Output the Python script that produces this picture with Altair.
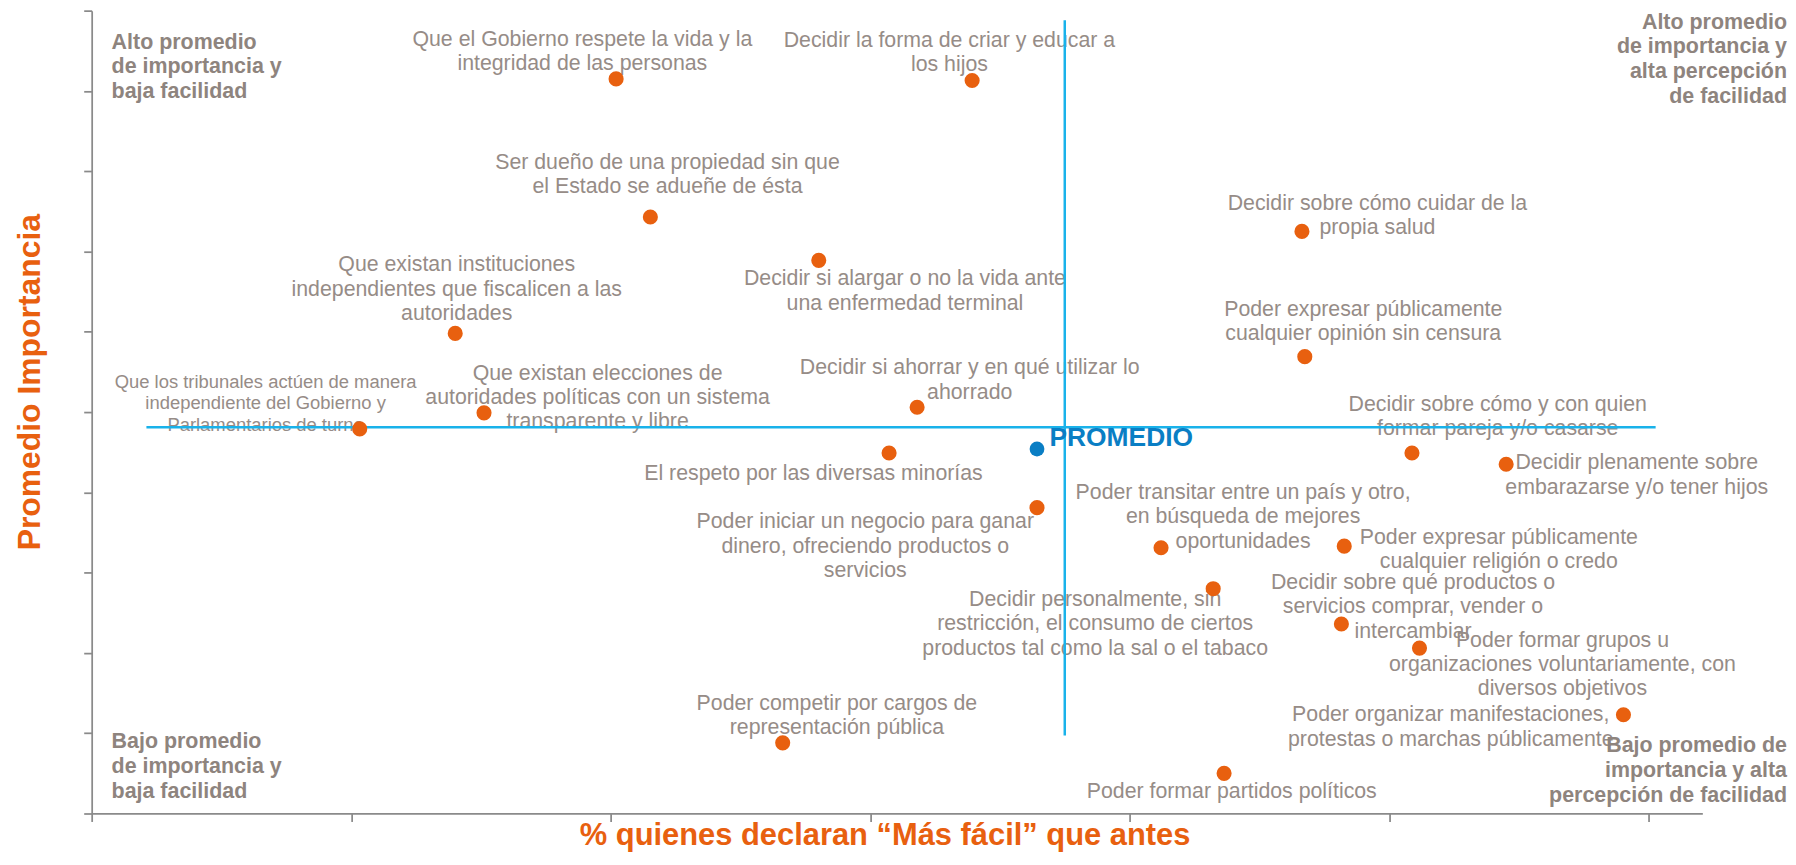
import altair as alt
import pandas as pd

# ---------------- data ----------------
labels = [
    "Que el Gobierno respete la vida y la\nintegridad de las personas",
    "Decidir la forma de criar y educar a\nlos hijos",
    "Ser dueño de una propiedad sin que\nel Estado se adueñe de ésta",
    "Decidir si alargar o no la vida ante\nuna enfermedad terminal",
    "Que existan instituciones\nindependientes que fiscalicen a las\nautoridades",
    "Que  los tribunales actúen de manera\nindependiente del Gobierno y\nParlamentarios de turno",
    "Que existan elecciones de\nautoridades políticas con un sistema\ntransparente y libre",
    "Decidir si ahorrar y en qué utilizar lo\nahorrado",
    "El respeto por las diversas minorías",
    "Poder iniciar un negocio para ganar\ndinero, ofreciendo productos o\nservicios",
    "Poder transitar entre un país y otro,\nen búsqueda de mejores\noportunidades",
    "Decidir personalmente, sin\nrestricción, el consumo de ciertos\nproductos tal como la sal o el tabaco",
    "Poder competir por cargos de\nrepresentación pública",
    "Poder formar partidos políticos",
    "Decidir sobre cómo cuidar de la\npropia salud",
    "Poder expresar públicamente\ncualquier opinión sin censura",
    "Decidir sobre cómo y con  quien\nformar pareja y/o casarse",
    "Decidir plenamente sobre\nembarazarse y/o tener hijos",
    "Poder expresar públicamente\ncualquier religión o credo",
    "Decidir sobre qué productos o\nservicios comprar, vender o\nintercambiar",
    "Poder formar  grupos u\norganizaciones voluntariamente, con\ndiversos objetivos",
    "Poder organizar manifestaciones,\nprotestas o marchas públicamente",
]
# % que declara "Más fácil" (x) and promedio de importancia (y)
x_facil = [20.21, 33.93, 21.53, 28.02, 14.01, 10.33, 15.12, 31.81, 30.73,
           36.43, 41.21, 43.22, 26.63, 43.64, 46.64, 46.75, 50.88, 54.51,
           48.27, 48.16, 51.17, 59.03]
y_import = [9.15, 9.13, 7.43, 6.89, 5.98, 4.79, 4.99, 5.06, 4.49,
            3.81, 3.31, 2.80, 0.88, 0.50, 7.25, 5.69, 4.49, 4.35,
            3.33, 2.36, 2.06, 1.23]

promedio_x = [36.43]
promedio_y = [4.54]

mean_facil = [37.50]          # vertical reference line
mean_facil_span = [0.97, 9.88]
mean_import = [4.81]          # horizontal reference line
mean_import_span = [2.11, 60.27]

quadrants = [
    "Alto promedio\nde importancia y\nbaja facilidad",
    "Alto promedio\nde importancia y\nalta percepción\nde facilidad",
    "Bajo promedio\nde importancia y\nbaja facilidad",
    "Bajo promedio de\nimportancia y alta\npercepción de facilidad",
]

# ---------------- label placement (pixel offsets, styling only) ----------------
label_dx = [-33.9, -22.8, 17.2, 86.5, 1.5, -94.5, 114, 52.8, -75.9,
            -172.4, 82.4, -118.5, 54.4, 7.7, 75.8, 58.7, 86.1, 131.1,
            155.2, 71.9, 143.5, -173.4]
label_dy = [-50.1, -50.8, -65.5, 7.9, -79.5, -56.3, -50.5, -50.1, 10.5,
            3.8, -66.1, 0.2, -50.2, 8.2, -38.8, -57.9, -59.5, -11.8,
            -19.5, -52.2, -18.5, -10.5]
label_small = [i == 5 for i in range(len(labels))]

W, H = 1617, 806
X_MAX = 62.07
Y_MAX = 10
PX_X = W / X_MAX
PX_Y = H / Y_MAX

FONT = "Liberation Sans"
GREY = "#968C87"
GREY_B = "#8E847E"
ORANGE = "#E8600F"
BLUE_LINE = "#19B2EA"
BLUE_PT = "#0A7EC4"
AXIS = "#8A8A8A"

df = pd.DataFrame({
    "label": labels, "x": x_facil, "y": y_import, "small": label_small,
})
df["lx"] = df["x"] + pd.Series(label_dx) / PX_X
df["ly"] = df["y"] - pd.Series(label_dy) / PX_Y

xs = alt.Scale(domain=[0, X_MAX], nice=False, zero=False)
ys = alt.Scale(domain=[0, Y_MAX], nice=False, zero=False)

x_axis = alt.Axis(
    values=[0, 10, 20, 30, 40, 50, 60], labels=False, grid=False,
    tickSize=8, tickColor=AXIS, tickWidth=1.75,
    domainColor=AXIS, domainWidth=1.75,
    title="% quienes declaran “Más fácil” que antes",
    titleFont=FONT, titleFontSize=31, titleFontWeight="bold", titleColor=ORANGE,
    titleX=796, titleY=31, titleAlign="center", titleBaseline="alphabetic",
)
y_axis = alt.Axis(
    values=list(range(11)), labels=False, grid=False,
    tickSize=8, tickColor=AXIS, tickWidth=1.75,
    domainColor=AXIS, domainWidth=1.75,
    title="Promedio Importancia",
    titleFont=FONT, titleFontSize=32, titleFontWeight="bold", titleColor=ORANGE,
    titleAngle=270, titleX=-52, titleY=372.5, titleAlign="center",
    titleBaseline="alphabetic",
)


def X(field):
    return alt.X(field, type="quantitative", scale=xs, axis=x_axis)


def Y(field):
    return alt.Y(field, type="quantitative", scale=ys, axis=y_axis)


base = alt.Chart(df)

text_main = base.transform_filter("!datum.small").mark_text(
    align="center", baseline="top", lineBreak="\n", font=FONT,
    fontSize=21.4, lineHeight=24.5, color=GREY,
).encode(x=X("lx"), y=Y("ly"), text="label:N")

text_small = base.transform_filter("datum.small").mark_text(
    align="center", baseline="top", lineBreak="\n", font=FONT,
    fontSize=18.5, lineHeight=21.5, color=GREY,
).encode(x=X("lx"), y=Y("ly"), text="label:N")

hline = alt.Chart(pd.DataFrame({
    "y": mean_import, "x1": [mean_import_span[0]], "x2": [mean_import_span[1]]
})).mark_rule(color=BLUE_LINE, strokeWidth=2.5).encode(
    y=Y("y"), x=X("x1"), x2="x2:Q",
)
vline = alt.Chart(pd.DataFrame({
    "x": mean_facil, "y1": [mean_facil_span[0]], "y2": [mean_facil_span[1]]
})).mark_rule(color=BLUE_LINE, strokeWidth=2.5).encode(
    x=X("x"), y=Y("y1"), y2="y2:Q",
)

points = base.mark_circle(size=230, color=ORANGE, opacity=1).encode(
    x=X("x"), y=Y("y"),
)

prom_df = pd.DataFrame({"x": promedio_x, "y": promedio_y, "t": ["PROMEDIO"]})
prom_pt = alt.Chart(prom_df).mark_circle(size=220, color=BLUE_PT, opacity=1).encode(
    x=X("x"), y=Y("y"),
)
prom_txt = alt.Chart(prom_df).mark_text(
    align="left", baseline="top", dx=12.5, dy=-24, font=FONT,
    fontSize=26.5, fontWeight="bold", color=BLUE_PT,
).encode(x=X("x"), y=Y("y"), text="t:N")

q_df = pd.DataFrame({"t": quadrants})


def quad(i, xv, yv, align, dx, dy):
    return alt.Chart(q_df).transform_filter(
        alt.datum.t == quadrants[i]
    ).mark_text(
        align=align, baseline="top", lineBreak="\n", font=FONT, fontSize=21.5,
        fontWeight="bold", lineHeight=25, color=GREY_B, dx=dx, dy=dy,
    ).encode(
        x=alt.X(datum=xv, type="quantitative", scale=xs, axis=x_axis),
        y=alt.Y(datum=yv, type="quantitative", scale=ys, axis=y_axis),
        text="t:N",
    )


q_tl = quad(0, 0, Y_MAX, "left", 20, 21)
q_tr = quad(1, X_MAX, Y_MAX, "right", 85, 1)
q_bl = quad(2, 0, 0, "left", 20, -83)
q_br = quad(3, X_MAX, 0, "right", 85, -79)

chart = alt.layer(
    text_main, text_small, q_tl, q_tr, q_bl, q_br,
    hline, vline, points, prom_pt, prom_txt,
).properties(
    width=W, height=H,
    autosize=alt.AutoSizeParams(type="none"),
    padding={"left": 84, "top": 1, "right": 86, "bottom": 37},
    background="white",
).configure_view(stroke=None)

chart.save("out.html", embed_options={"renderer": "svg", "actions": False})
